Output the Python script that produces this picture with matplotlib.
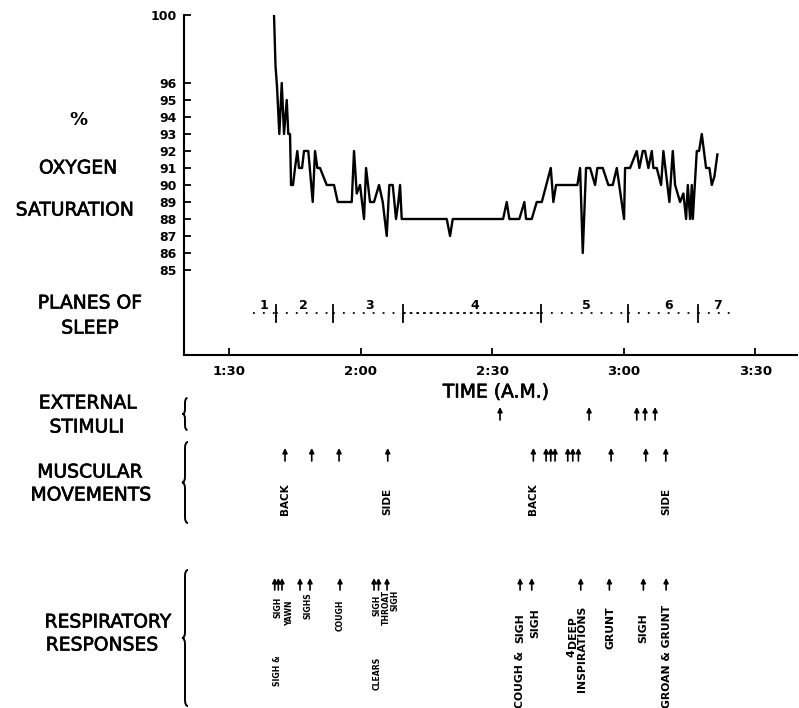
#!/usr/bin/env python3
"""
Oxygen saturation through the night, planes of sleep and the events below it.
"""
import matplotlib
matplotlib.use("Agg")
from matplotlib import pyplot as plt
from matplotlib.path import Path
from matplotlib.patches import PathPatch
import matplotlib.patheffects as pe

### data (time = minutes after midnight)
sat_time = [100.2, 100.54, 100.88, 101.41, 101.96, 102.48, 103.10, 103.46, 103.85, 104.08,
  104.53, 104.99, 105.51, 105.90, 106.59, 107.04, 108.02, 109.03, 109.55, 110.08,
  110.69, 112.22, 113.89, 114.73, 117.93, 118.45, 119.07, 119.82, 120.73, 121.19,
  122.10, 123.01, 124.16, 125.00, 125.91, 126.50, 127.28, 128.03, 128.56, 128.95,
  129.33, 139.60, 140.36, 140.97, 152.45, 153.29, 153.88, 156.16, 157.31, 157.69,
  158.99, 160.13, 161.28, 163.33, 163.92, 164.54, 169.40, 170.02, 170.63, 171.38,
  172.30, 173.44, 173.96, 175.19, 176.47, 177.47, 178.39, 180.05, 180.28, 181.42,
  182.95, 183.54, 184.32, 184.84, 185.60, 186.37, 186.74, 187.51, 188.50, 189.02,
  190.39, 191.16, 191.69, 192.83, 193.58, 194.20, 194.59, 195.11, 195.50, 195.73,
  196.64, 197.16, 197.78, 198.76, 199.52, 200.06, 200.66, 201.34]
sat_pct = [100, 97, 95.8, 93, 96, 93, 95, 93, 93, 90,
  90, 91, 92, 91, 91, 92, 92, 89, 92, 91,
  91, 90, 90, 89, 89, 92, 89.5, 90, 88, 91,
  89, 89, 90, 89, 87, 90, 90, 88, 89, 90,
  88, 88, 87, 88, 88, 89, 88, 88, 89, 88,
  88, 89, 89, 91, 89, 90, 90, 91, 86, 91,
  91, 90, 91, 91, 90, 90, 91, 88, 91, 91,
  92, 91, 92, 92, 91, 92, 91, 91, 90, 92,
  89, 92, 90, 89, 89.5, 88, 90, 88, 90, 88,
  92, 92, 93, 91, 91, 90, 90.5, 91.8]

sat_ticks = [85, 86, 87, 88, 89, 90, 91, 92, 93, 94, 95, 96, 100]
hour_ticks = [90, 120, 150, 180, 210]
hour_labels = ["1:30", "2:00", "2:30", "3:00", "3:30"]

plane_span = [95.3, 205.4]
plane_bounds = [100.7, 113.7, 129.7, 161.0, 181.0, 197.0]
plane_label_time = [97.8, 107.0, 121.9, 146.1, 171.4, 190.2, 201.3]
plane_labels = ["1", "2", "3", "4", "5", "6", "7"]

stimuli_time = [151.76, 172.07, 182.95, 184.84, 187.13]
movement_time = [102.71, 108.80, 115.03, 126.14, 159.36, 162.26, 163.33, 164.31,
  167.21, 168.35, 169.63, 177.09, 185.01, 189.57]
movement_text = ["BACK", "SIDE", "BACK", "SIDE"]
movement_text_time = [102.71, 126.14, 159.36, 189.57]
resp_time = [100.36, 101.18, 102.02, 106.13, 108.41, 115.26, 123.01, 124.04, 125.98,
  156.33, 158.99, 170.17, 176.70, 184.46, 189.64]
resp_text = ["SIGH", "SIGH &", "YAWN", "SIGHS", "COUGH", "SIGH", "CLEARS", "THROAT", "SIGH",
  "SIGH", "COUGH &", "SIGH", "4", "DEEP", "INSPIRATIONS", "GRUNT", "SIGH", "GROAN & GRUNT"]
resp_text_time = [101.04, 101.04, 103.69, 108.02, 115.26, 123.63, 123.63, 125.80, 127.75,
  156.33, 156.33, 159.75, 168.12, 168.35, 170.40, 176.86, 184.46, 189.80]

###
W, H = 799, 708
plt.rcParams["font.family"] = ["DejaVu Sans"]
fig = plt.figure(figsize=(W/100, H/100), dpi=100)

def fig_rect(x0, y0, x1, y1):
  "pixel box (y from top) -> figure rect"
  return [x0/W, 1 - y1/H, (x1 - x0)/W, (y1 - y0)/H]

ov = fig.add_axes([0, 0, 1, 1])
ov.set_xlim(0, W); ov.set_ylim(H, 0); ov.axis("off")

ax = fig.add_axes(fig_rect(183.5, 15, 797, 355))
ax.set_xlim(79.55, 219.5)
ax.set_ylim(80, 100)
ax.patch.set_visible(False)
for s in ["top", "right"]:
  ax.spines[s].set_visible(False)
for s in ["left", "bottom"]:
  ax.spines[s].set_linewidth(1.5)

ax.plot(sat_time, sat_pct, color="black", lw=1.7, solid_joinstyle="round")

ax.set_yticks(sat_ticks)
ax.set_yticklabels([str(v) for v in sat_ticks], fontsize=9, fontweight="bold")
ax.set_xticks(hour_ticks)
ax.set_xticklabels(hour_labels, fontsize=9.5, fontweight="bold")
ax.tick_params(axis="y", direction="in", length=5, width=1.3, pad=5)
ax.tick_params(axis="x", direction="in", length=5, width=1.3, pad=7)

# planes of sleep row, drawn inside the axes just above the time axis
yp = 82.47
seg = [plane_span[0]] + plane_bounds + [plane_span[1]]
for i in range(len(seg) - 1):
  dense = (seg[i] == 129.7)
  ax.plot([seg[i], seg[i+1]], [yp, yp], color="black", lw=1.3,
    linestyle=(0, (1.5, 2.2)) if dense else (0, (1, 4.5)))
for b in plane_bounds:
  ax.plot([b, b], [yp - 0.5, yp + 0.5], color="black", lw=1.3)
for t, lab in zip(plane_label_time, plane_labels):
  ax.text(t, yp + 0.08, lab, ha="center", va="bottom", fontsize=9, fontweight="bold")

### lower panel: same time scale, y in pixel rows
bx = fig.add_axes(fig_rect(183.5, 380, 797, H))
bx.set_xlim(ax.get_xlim())
bx.set_ylim(H, 380)
bx.axis("off")

def arrows(times, ytop, ybot):
  for t in times:
    bx.annotate("", xy=(t, ytop), xytext=(t, ybot),
      arrowprops=dict(arrowstyle="-|>", mutation_scale=7, lw=1.2, color="black",
        shrinkA=0, shrinkB=0))

arrows(stimuli_time, 407, 420)
arrows(movement_time, 448, 461)
arrows(resp_time, 578, 590)

for t, s in zip(movement_text_time, movement_text):
  bx.text(t, 515, s, rotation=90, ha="center", va="bottom", fontsize=7.5, fontweight="bold")

resp_top = [597, 655, 600, 592, 600, 595, 657, 590, 590,
  613, 651, 608, 649, 616, 606, 606, 613, 605]
for i, (t, s) in enumerate(zip(resp_text_time, resp_text)):
  fs = 5.6 if t < 140 else 7.8
  bx.text(t, resp_top[i], s, rotation=90, ha="center", va="top", fontsize=fs, fontweight="bold")

### row titles and braces
def brace(x, y0, y1, w=6):
  ym = (y0 + y1)/2.
  verts = [(x + w*0.5, y0), (x, y0), (x, y0 + w),
    (x, ym - w), (x, ym), (x - w*0.5, ym),
    (x, ym), (x, ym + w),
    (x, y1 - w), (x, y1), (x + w*0.5, y1)]
  codes = [Path.MOVETO, Path.CURVE3, Path.CURVE3,
    Path.LINETO, Path.CURVE3, Path.CURVE3,
    Path.CURVE3, Path.CURVE3,
    Path.LINETO, Path.CURVE3, Path.CURVE3]
  ov.add_patch(PathPatch(Path(verts, codes), fill=False, lw=1.4, color="black"))

brace(185, 398, 430, w=5)
brace(185, 442, 523)
brace(185, 570, 706)

thick = [pe.withStroke(linewidth=0.45, foreground="black")]
big = dict(ha="center", va="center", fontsize=13.5, path_effects=thick)
ov.text(78, 120, "%", ha="center", va="center", fontsize=13, fontweight="bold")
ov.text(78, 168, "OXYGEN", **big)
ov.text(75, 210, "SATURATION", **big)
ov.text(90, 303, "PLANES OF", **big)
ov.text(90, 328, "SLEEP", **big)
ov.text(496, 392, "TIME (A.M.)", **big)
ov.text(88, 403, "EXTERNAL", **big)
ov.text(87, 427, "STIMULI", **big)
ov.text(90, 472, "MUSCULAR", **big)
ov.text(91, 495, "MOVEMENTS", **big)
ov.text(108, 622, "RESPIRATORY", **big)
ov.text(102, 645, "RESPONSES", **big)

plt.savefig("out.png", dpi=100)
